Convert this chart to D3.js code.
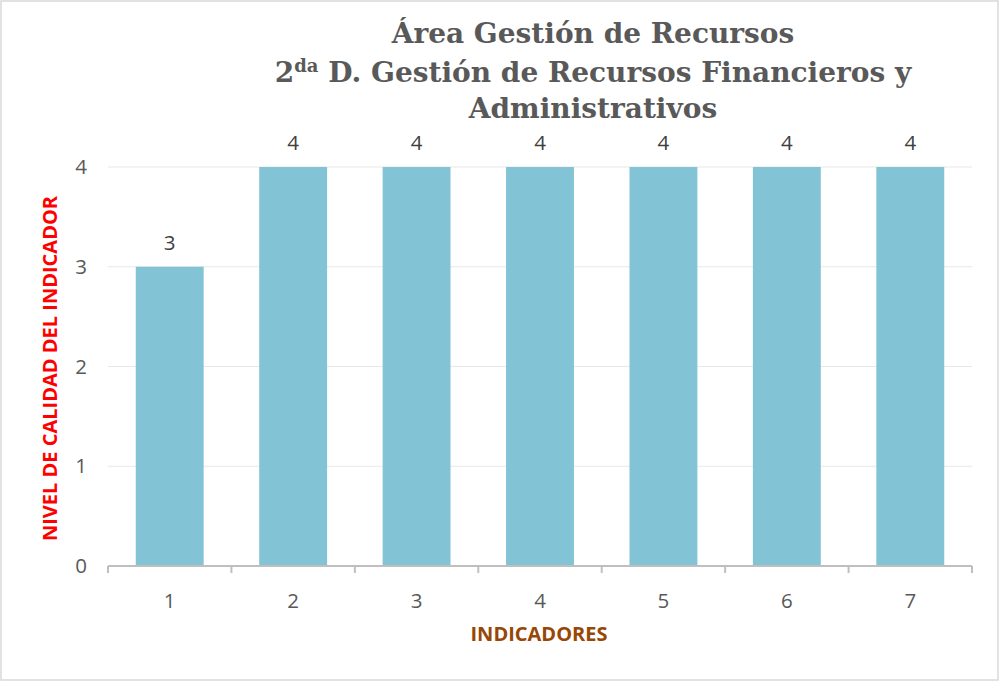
<!DOCTYPE html>
<html>
<head>
<meta charset="utf-8">
<script src="https://cdn.jsdelivr.net/npm/d3@7"></script>
<style>
  body { margin: 0; background: #fff; }
  svg { display: block; }
</style>
</head>
<body>
<svg id="chart" width="1000" height="682"></svg>
<script>
const categories = ["1", "2", "3", "4", "5", "6", "7"];
const values = [3, 4, 4, 4, 4, 4, 4];
const yTicks = [0, 1, 2, 3, 4];

const svg = d3.select("#chart");
const width = 1000, height = 682;
const margin = { top: 167, right: 28, bottom: 116, left: 108 };

// chart border
svg.append("rect")
    .attr("x", 1).attr("y", 1)
    .attr("width", width - 3).attr("height", height - 3)
    .attr("fill", "#fff")
    .attr("stroke", "#d9d9d9")
    .attr("stroke-width", 1.5);

const x = d3.scaleBand()
    .domain(categories)
    .range([margin.left, width - margin.right])
    .paddingInner(0.45)
    .paddingOuter(0.225);

const y = d3.scaleLinear()
    .domain([0, 4])
    .range([height - margin.bottom, margin.top]);

// gridlines
svg.append("g")
    .selectAll("line")
    .data(yTicks.filter(d => d > 0))
    .enter().append("line")
    .attr("x1", margin.left)
    .attr("x2", width - margin.right)
    .attr("y1", d => y(d))
    .attr("y2", d => y(d))
    .attr("stroke", "#e8e8e8")
    .attr("stroke-width", 1.2);

// bars
svg.append("g")
    .selectAll("rect")
    .data(values)
    .enter().append("rect")
    .attr("x", (d, i) => x(categories[i]))
    .attr("y", d => y(d))
    .attr("width", x.bandwidth())
    .attr("height", d => y(0) - y(d))
    .attr("fill", "#82c4d6");

// data labels
svg.append("g")
    .selectAll("text")
    .data(values)
    .enter().append("text")
    .attr("x", (d, i) => x(categories[i]) + x.bandwidth() / 2)
    .attr("y", d => y(d) - 17)
    .attr("text-anchor", "middle")
    .attr("font-family", "'Open Sans', sans-serif")
    .attr("font-size", 20.5)
    .attr("fill", "#404040")
    .text(d => d);

// x axis
const step = x.step();
const xAxis = svg.append("g");
xAxis.append("line")
    .attr("x1", margin.left)
    .attr("x2", width - margin.right)
    .attr("y1", y(0))
    .attr("y2", y(0))
    .attr("stroke", "#bfbfbf")
    .attr("stroke-width", 2);
const boundaries = d3.range(categories.length + 1);
xAxis.selectAll("line.tick")
    .data(boundaries)
    .enter().append("line")
    .attr("class", "tick")
    .attr("x1", d => margin.left + d * step)
    .attr("x2", d => margin.left + d * step)
    .attr("y1", y(0))
    .attr("y2", y(0) + 7)
    .attr("stroke", "#bfbfbf")
    .attr("stroke-width", 2);
xAxis.selectAll("text")
    .data(categories)
    .enter().append("text")
    .attr("x", d => x(d) + x.bandwidth() / 2)
    .attr("y", y(0) + 42)
    .attr("text-anchor", "middle")
    .attr("font-family", "'Open Sans', sans-serif")
    .attr("font-size", 20.5)
    .attr("fill", "#595959")
    .text(d => d);

// y axis labels
svg.append("g")
    .selectAll("text")
    .data(yTicks)
    .enter().append("text")
    .attr("x", margin.left - 21)
    .attr("y", d => y(d) + 7)
    .attr("text-anchor", "end")
    .attr("font-family", "'Open Sans', sans-serif")
    .attr("font-size", 20.5)
    .attr("fill", "#595959")
    .text(d => d);

// axis titles
svg.append("text")
    .attr("transform", "translate(57," + ((y(0) + y(4)) / 2 + 2) + ") rotate(-90)")
    .attr("text-anchor", "middle")
    .attr("font-family", "'Open Sans', sans-serif")
    .attr("font-weight", "bold")
    .attr("font-size", 20)
    .attr("fill", "#ff0000")
    .text("NIVEL DE CALIDAD DEL INDICADOR");

svg.append("text")
    .attr("x", 539)
    .attr("y", 641)
    .attr("text-anchor", "middle")
    .attr("font-family", "'Open Sans', sans-serif")
    .attr("font-weight", "bold")
    .attr("font-size", 20)
    .attr("fill", "#974706")
    .text("INDICADORES");

// title
const title = svg.append("text")
    .attr("text-anchor", "middle")
    .attr("font-family", "'DejaVu Serif', serif")
    .attr("font-weight", "bold")
    .attr("font-size", 28)
    .attr("fill", "#595959");
title.append("tspan").attr("x", 593).attr("y", 43).text("Área Gestión de Recursos");
const l2 = title.append("tspan").attr("x", 593).attr("y", 82);
l2.append("tspan").text("2");
l2.append("tspan").attr("dy", -10).attr("font-size", 18).text("da");
l2.append("tspan").attr("dy", 10).text(" D. Gestión de Recursos Financieros y");
title.append("tspan").attr("x", 593).attr("y", 118).text("Administrativos");
</script>
</body>
</html>
